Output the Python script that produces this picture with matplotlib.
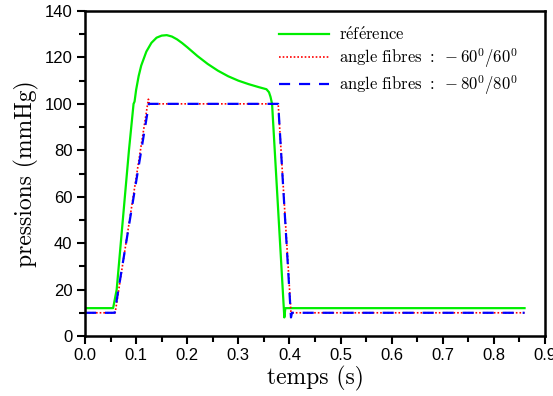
import matplotlib
matplotlib.use("Agg")
import matplotlib.pyplot as plt
from matplotlib.ticker import MultipleLocator

# courbe de référence
t_ref = [0.0, 0.055, 0.062, 0.086, 0.095, 0.097, 0.100, 0.105, 0.11, 0.12, 0.13, 0.14,
         0.15, 0.16, 0.17, 0.18, 0.19, 0.20, 0.22, 0.24, 0.26, 0.28, 0.30, 0.32,
         0.34, 0.355, 0.360, 0.363, 0.366, 0.390, 0.392, 0.86]
p_ref = [12, 12, 20, 80, 100, 101, 106, 112, 116.5, 122.5, 126.3, 128.5,
         129.4, 129.6, 129.0, 127.8, 126.2, 124.4, 120.6, 117.2, 114.3, 111.9, 110.0, 108.5,
         107.2, 106.3, 105.0, 103.0, 100, 8, 12, 12]

# angle fibres -60/60
t_60 = [0.0, 0.059, 0.124, 0.126, 0.128, 0.375, 0.378, 0.403, 0.405, 0.86]
p_60 = [10, 10, 102, 100, 100, 100, 100, 10, 10, 10]

# angle fibres -80/80
t_80 = [0.0, 0.058, 0.125, 0.374, 0.378, 0.403, 0.405, 0.408, 0.86]
p_80 = [10, 10, 100, 100, 100, 8, 10, 10, 10]

labels = [r'$\mathrm{r\acute{e}f\acute{e}rence}$',
          r'$\mathrm{angle\ fibres\ {:}\ }-60^0/60^0$',
          r'$\mathrm{angle\ fibres\ {:}\ }-80^0/80^0$']

plt.rcParams['mathtext.fontset'] = 'cm'

fig = plt.figure(figsize=(5.53, 3.96), dpi=100)
ax = fig.add_axes([85 / 553, 60 / 396, 460 / 553, 325 / 396])

ax.plot(t_ref, p_ref, color='#00ee00', lw=1.6, label=labels[0])
ax.plot(t_60, p_60, color='red', lw=1.2, ls=(0, (1, 1.2)), label=labels[1])
ax.plot(t_80, p_80, color='blue', lw=1.6, ls=(0, (5, 4)), label=labels[2])

ax.set_xlim(0, 0.9)
ax.set_ylim(0, 140)
ax.xaxis.set_major_locator(MultipleLocator(0.1))
ax.xaxis.set_minor_locator(MultipleLocator(0.05))
ax.yaxis.set_major_locator(MultipleLocator(20))
ax.yaxis.set_minor_locator(MultipleLocator(10))
ax.xaxis.set_major_formatter(plt.FuncFormatter(lambda v, p: f"{v:.1f}"))
ax.tick_params(which='both', direction='out', width=1.5, labelsize=12, pad=3)
ax.tick_params(which='major', length=6)
ax.tick_params(which='minor', length=4)
for lab in ax.get_xticklabels() + ax.get_yticklabels():
    lab.set_family('Liberation Sans')
for s in ax.spines.values():
    s.set_linewidth(1.8)

ax.set_xlabel('temps (s)', family='cmr10', fontsize=17, labelpad=2)
ax.set_ylabel('pressions (mmHg)', family='cmr10', fontsize=17, labelpad=4)

leg = ax.legend(loc='upper left', frameon=False, fontsize=12,
                handlelength=3.0, handletextpad=0.6, labelspacing=0.15,
                bbox_to_anchor=(0.39, 1.0))

fig.savefig('out.png', dpi=100)
